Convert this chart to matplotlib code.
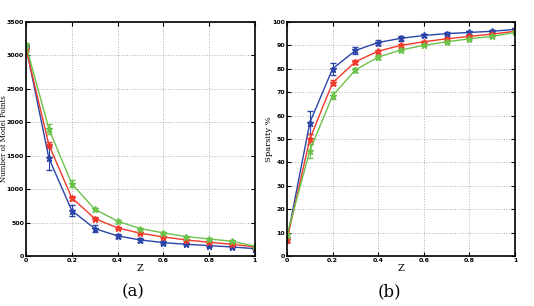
import matplotlib.pyplot as plt
import numpy as np

z = [0, 0.1, 0.2, 0.3, 0.4, 0.5, 0.6, 0.7, 0.8, 0.9, 1.0]

# (a) number of model points
pts_blue = [3130, 1460, 680, 410, 300, 240, 200, 175, 155, 135, 110]
pts_blue_err = [30, 180, 80, 50, 35, 25, 20, 15, 15, 12, 10]
pts_red = [3100, 1660, 870, 560, 420, 340, 285, 240, 205, 175, 135]
pts_red_err = [30, 50, 30, 20, 15, 12, 10, 10, 8, 8, 8]
pts_green = [3150, 1900, 1080, 700, 520, 410, 345, 290, 255, 220, 145]
pts_green_err = [30, 80, 50, 25, 20, 15, 12, 10, 10, 8, 8]

# (b) sparsity
sp_blue = [7, 57, 80, 87.8, 91.2, 93, 94.2, 95, 95.5, 96, 96.8]
sp_blue_err = [1, 5, 2.5, 1.5, 1.2, 1, 0.8, 0.7, 0.6, 0.5, 0.4]
sp_red = [7, 50, 74, 83, 87.5, 90, 91.5, 92.8, 93.8, 94.8, 96]
sp_red_err = [1, 2, 1, 0.8, 0.7, 0.6, 0.5, 0.5, 0.4, 0.4, 0.3]
sp_green = [9, 45, 68.5, 79.5, 85, 88, 90, 91.5, 92.8, 93.8, 95.5]
sp_green_err = [1, 3, 1.5, 1, 0.8, 0.6, 0.5, 0.5, 0.4, 0.4, 0.3]

c_blue = '#2a44a8'
c_red = '#f03a2a'
c_green = '#6cc24a'

fig = plt.figure(figsize=(5.34, 3.06), dpi=100)
ax1 = fig.add_axes([0.0487, 0.1634, 0.4288, 0.765])
ax2 = fig.add_axes([0.5375, 0.1634, 0.427, 0.765])


def draw(ax, series):
    for y, e, c in series:
        ax.errorbar(z, y, yerr=e, color=c, marker='*', markersize=5, lw=1,
                    capsize=2, elinewidth=0.8)
    ax.set_xlim(0, 1)
    ax.grid(True, linestyle=':', color='#b0b0b0', lw=0.7)
    ax.tick_params(direction='in', top=True, right=True, length=3, labelsize=4.5, pad=1.5)
    for s in ax.spines.values():
        s.set_linewidth(1.2)
    ax.set_xlabel('Z', family='serif', fontsize=7, labelpad=1)


draw(ax1, [(pts_blue, pts_blue_err, c_blue), (pts_red, pts_red_err, c_red),
           (pts_green, pts_green_err, c_green)])
ax1.set_ylim(0, 3500)
ax1.set_yticks(np.arange(0, 3501, 500))
ax1.set_xticks(np.arange(0, 1.01, 0.2))
ax1.set_xticklabels(['0', '0.2', '0.4', '0.6', '0.8', '1'], fontweight='bold')
ax1.set_yticklabels([str(v) for v in range(0, 3501, 500)], fontweight='bold')
ax1.set_ylabel('Number of Model Points', family='serif', fontsize=5)
ax1.yaxis.set_label_coords(-0.078, 0.5)

draw(ax2, [(sp_blue, sp_blue_err, c_blue), (sp_red, sp_red_err, c_red),
           (sp_green, sp_green_err, c_green)])
ax2.set_ylim(0, 100)
ax2.set_yticks(np.arange(0, 101, 10))
ax2.set_xticks(np.arange(0, 1.01, 0.2))
ax2.set_xticklabels(['0', '0.2', '0.4', '0.6', '0.8', '1'], fontweight='bold')
ax2.set_yticklabels([str(v) for v in range(0, 101, 10)], fontweight='bold')
ax2.set_ylabel('Sparsity %', family='serif', fontsize=6)
ax2.yaxis.set_label_coords(-0.06, 0.5)

fig.text(0.249, 0.045, '(a)', family='serif', fontsize=12, ha='center', va='center')
fig.text(0.73, 0.045, '(b)', family='serif', fontsize=12, ha='center', va='center')

fig.savefig('out.png', dpi=100)
